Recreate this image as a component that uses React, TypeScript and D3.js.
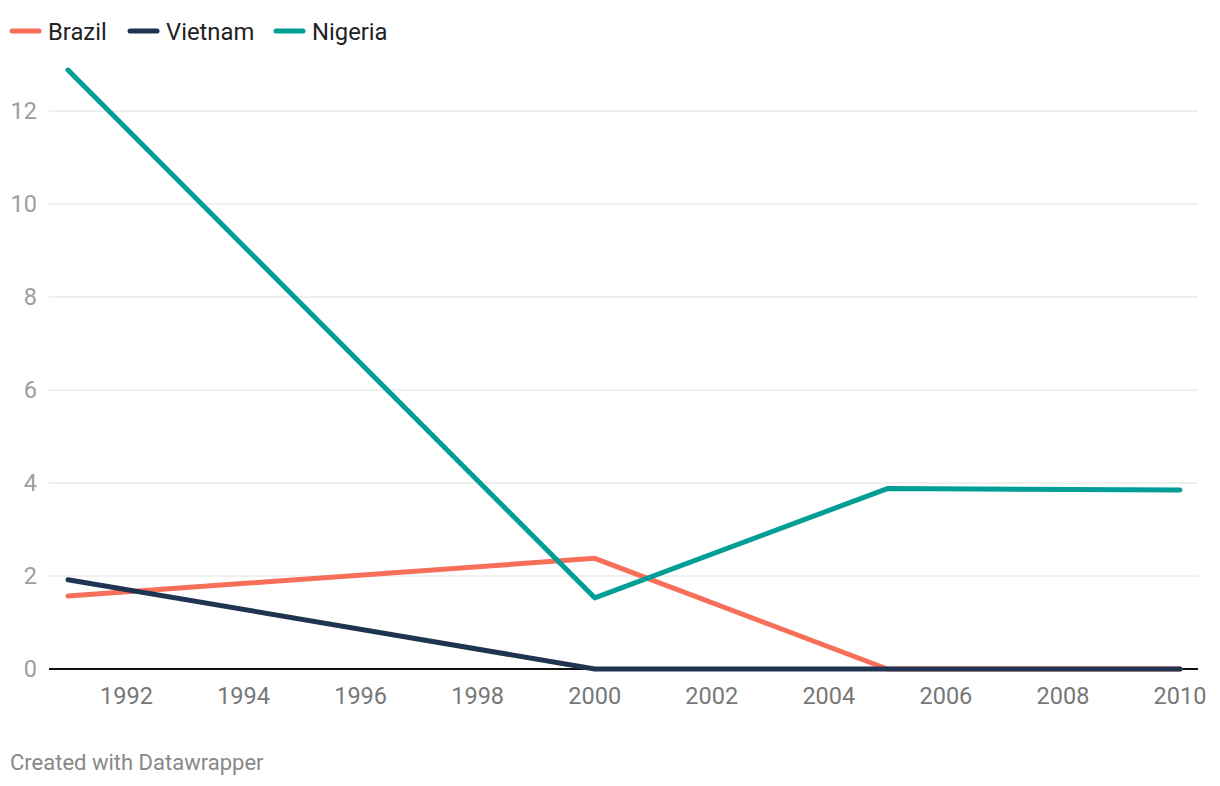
import React from 'react';
import * as d3 from 'd3';

const WIDTH = 1220;
const HEIGHT = 786;

const years = [1991, 2000, 2005, 2010];
const brazil = [1.57, 2.38, 0, 0];
const vietnam = [1.92, 0, 0, 0];
const nigeria = [12.88, 1.53, 3.88, 3.85];

const seriesNames = ['Brazil', 'Vietnam', 'Nigeria'];
const seriesColors = ['#f86f59', '#1e3450', '#009e97'];
const yTicks = [0, 2, 4, 6, 8, 10, 12];
const xTicks = [1992, 1994, 1996, 1998, 2000, 2002, 2004, 2006, 2008, 2010];

const FONT = 'Roboto, "Noto Sans", sans-serif';

export default function App() {
  const x = d3.scaleLinear().domain([1991, 2010]).range([68, 1180]);
  const y = d3.scaleLinear().domain([0, 12]).range([669, 111]);
  const gridLeft = 49;
  const gridRight = 1198;

  const allSeries = [brazil, vietnam, nigeria];
  const line = d3
    .line<number>()
    .x((_, i) => x(years[i]))
    .y((d) => y(d));

  // legend positions measured from the swatch start
  const legendX = [10, 128, 274];

  return (
    <svg
      width={WIDTH}
      height={HEIGHT}
      viewBox={`0 0 ${WIDTH} ${HEIGHT}`}
      style={{ position: 'absolute', left: 0, top: 0, background: '#fff' }}
      fontFamily={FONT}
    >
      {/* legend */}
      {seriesNames.map((name, i) => (
        <g key={name} transform={`translate(${legendX[i]},31)`}>
          <line x1={2} x2={29} y1={0} y2={0} stroke={seriesColors[i]} strokeWidth={5} strokeLinecap="round" />
          <text x={38} y={8.5} fontSize={23.8} fill="#222">
            {name}
          </text>
        </g>
      ))}

      {/* grid + y labels */}
      {yTicks.map((t) => (
        <g key={t}>
          {t !== 0 && (
            <line x1={gridLeft} x2={gridRight} y1={y(t)} y2={y(t)} stroke="#e0e0e0" strokeWidth={1} />
          )}
          <text x={37} y={y(t) + 8} textAnchor="end" fontSize={23.5} fill="#9e9e9e">
            {t}
          </text>
        </g>
      ))}

      {/* x labels */}
      {xTicks.map((t) => (
        <text key={t} x={x(t)} y={704} textAnchor="middle" fontSize={23.5} fill="#777">
          {t}
        </text>
      ))}

      {/* baseline */}
      <line x1={gridLeft} x2={gridRight} y1={y(0)} y2={y(0)} stroke="#111" strokeWidth={2} />

      {/* lines */}
      {allSeries.map((s, i) => (
        <path
          key={seriesNames[i]}
          d={line(s) ?? ''}
          fill="none"
          stroke={seriesColors[i]}
          strokeWidth={5}
          strokeLinecap="round"
          strokeLinejoin="round"
        />
      ))}

      {/* footer */}
      <text x={10} y={770} fontSize={22} fill="#888">
        Created with Datawrapper
      </text>
    </svg>
  );
}
